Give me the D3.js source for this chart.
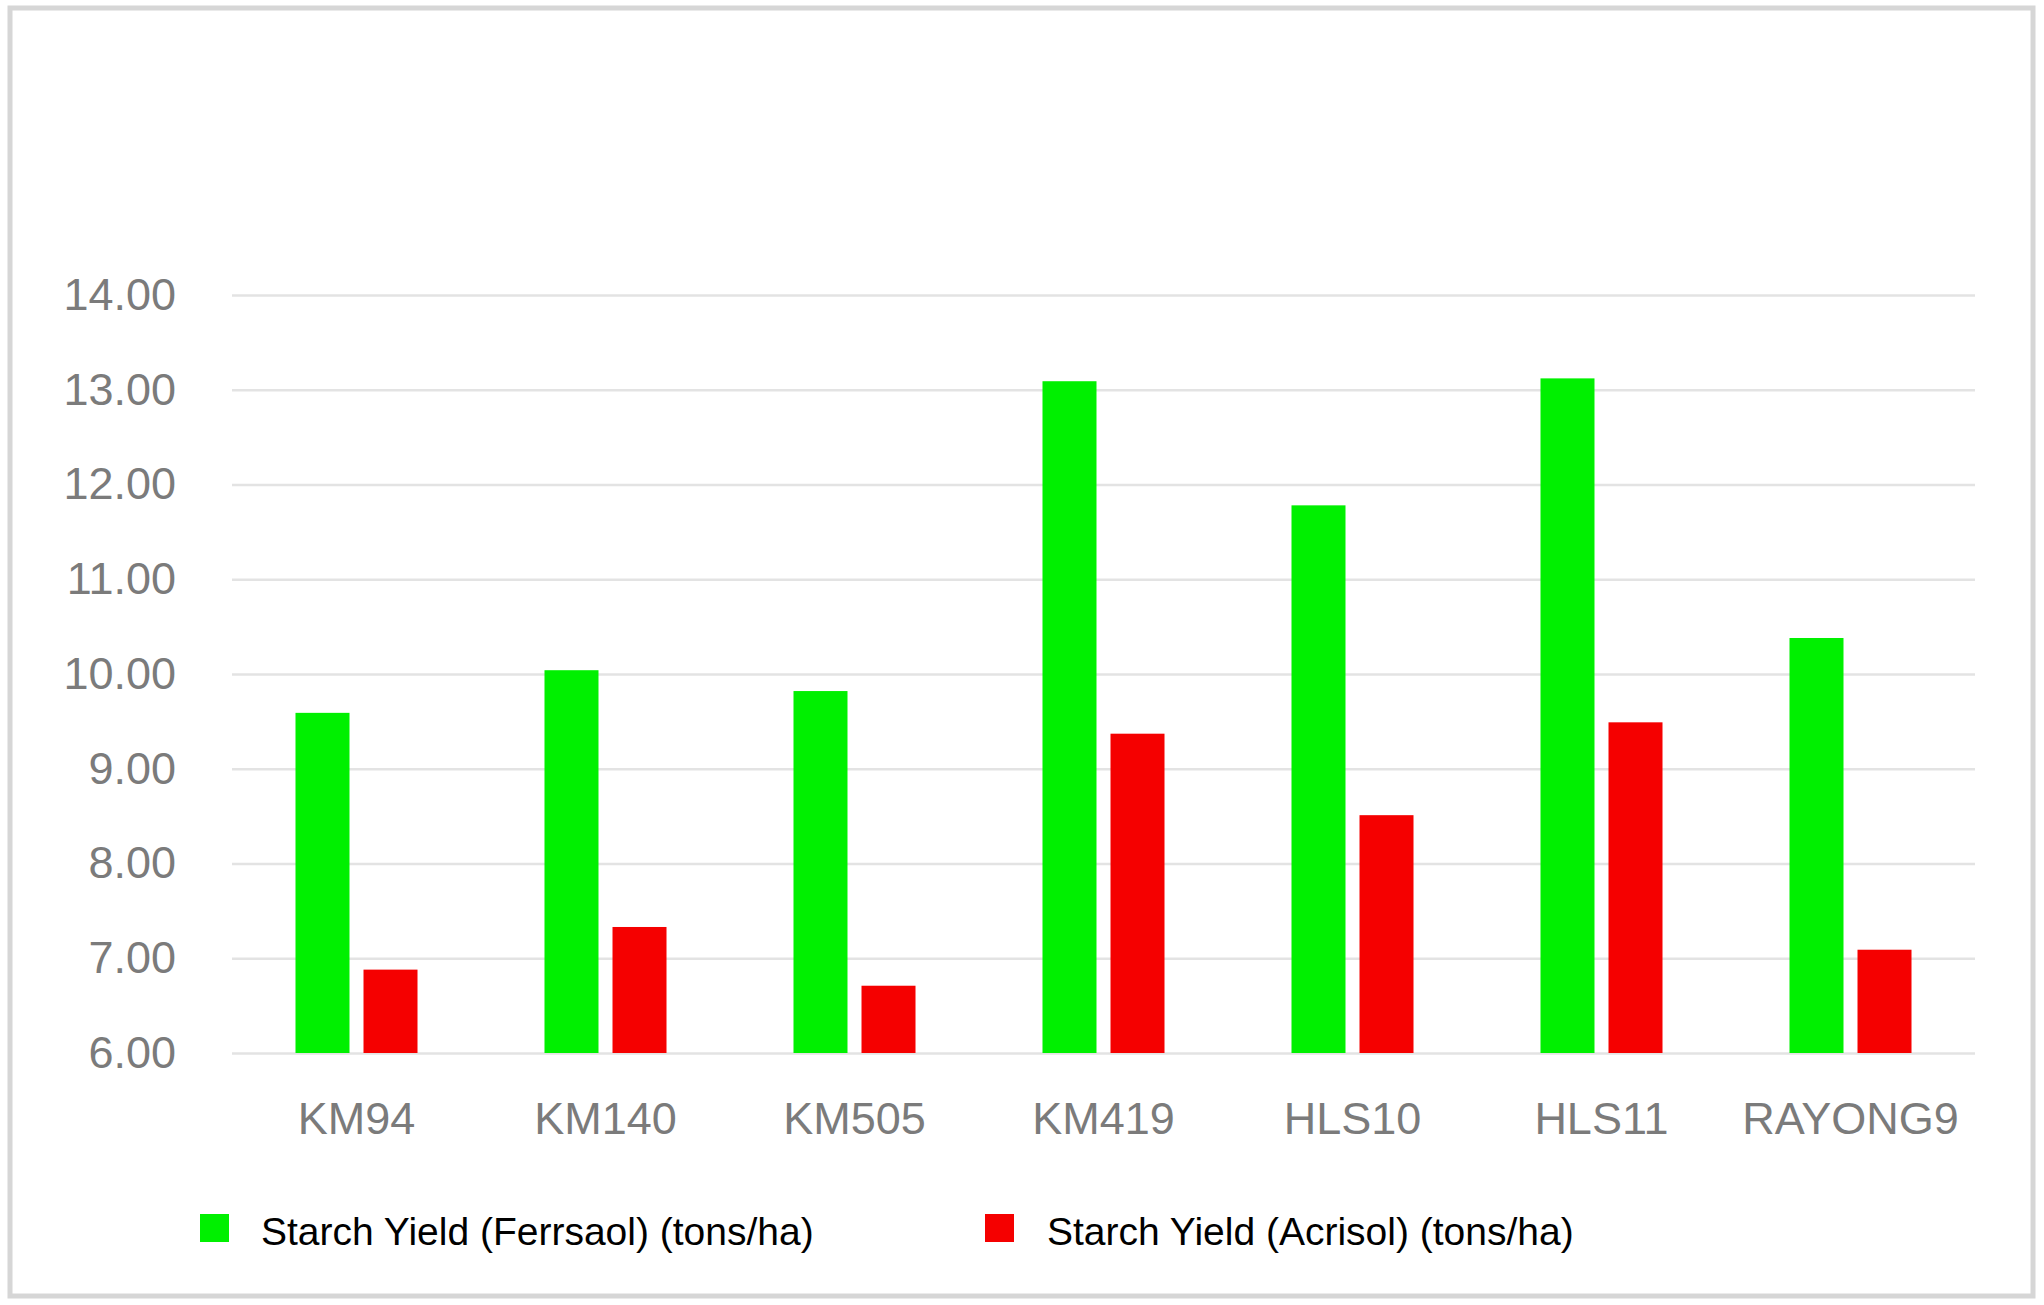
<!DOCTYPE html>
<html>
<head>
<meta charset="utf-8">
<script src="https://cdn.jsdelivr.net/npm/d3@7"></script>
<style>
  html, body { margin: 0; padding: 0; background: #ffffff; }
  svg { display: block; }
</style>
</head>
<body>
<svg id="chart" width="2044" height="1305"></svg>
<script>
const categories = ["KM94", "KM140", "KM505", "KM419", "HLS10", "HLS11", "RAYONG9"];
const seriesNames = ["Starch Yield (Ferrsaol) (tons/ha)", "Starch Yield (Acrisol) (tons/ha)"];
const ferralsolValues = [9.59, 10.04, 9.82, 13.09, 11.78, 13.12, 10.38];
const acrisolValues = [6.88, 7.33, 6.71, 9.37, 8.51, 9.49, 7.09];
const yTicks = [6, 7, 8, 9, 10, 11, 12, 13, 14];
const seriesColors = ["#00f000", "#f50000"];

const svg = d3.select("#chart");
const W = 2044, H = 1305;

// outer frame
svg.append("rect")
  .attr("x", 10).attr("y", 8).attr("width", 2023).attr("height", 1288)
  .attr("fill", "#ffffff").attr("stroke", "#d6d6d6").attr("stroke-width", 5);

const plotLeft = 232, plotRight = 1975;
const y = d3.scaleLinear().domain([6, 14]).range([1053, 295]);
const x0 = d3.scaleBand().domain(categories).range([plotLeft, plotRight])
  .paddingInner(0.51).paddingOuter(0.255);
const x1 = d3.scaleBand().domain(seriesNames).range([0, x0.bandwidth()])
  .paddingInner(0.206).paddingOuter(0);

// gridlines
const yAxis = d3.axisLeft(y).tickValues(yTicks)
  .tickSize(-(plotRight - plotLeft)).tickFormat(d3.format(".2f")).tickPadding(56);
const gy = svg.append("g").attr("transform", `translate(${plotLeft},0)`).call(yAxis);
gy.select(".domain").remove();
gy.selectAll(".tick line").attr("stroke", "#e3e3e3").attr("stroke-width", 2.5);
gy.selectAll(".tick text")
  .attr("fill", "#7b7b7b")
  .style("font-family", "'Liberation Sans', Arial, sans-serif")
  .style("font-size", "45px");

// bars
const rows = categories.map((c, i) => ({ cat: c, vals: [ferralsolValues[i], acrisolValues[i]] }));
const groups = svg.append("g").selectAll("g").data(rows).join("g")
  .attr("transform", d => `translate(${x0(d.cat)},0)`);
groups.selectAll("rect")
  .data(d => d.vals.map((v, j) => ({ name: seriesNames[j], v, j })))
  .join("rect")
  .attr("x", d => x1(d.name))
  .attr("width", x1.bandwidth())
  .attr("y", d => y(d.v))
  .attr("height", d => y(6) - y(d.v))
  .attr("fill", d => seriesColors[d.j]);

// x axis labels
const xAxis = d3.axisBottom(x0).tickSize(0).tickPadding(0);
const gx = svg.append("g").attr("transform", `translate(0,1118)`).call(xAxis);
gx.select(".domain").remove();
gx.selectAll(".tick text")
  .attr("fill", "#7b7b7b")
  .attr("dy", "0.36em")
  .style("font-family", "'Liberation Sans', Arial, sans-serif")
  .style("font-size", "45px");

// legend
const legendX = [200, 985];
const legendTextX = [261, 1047];
const lg = svg.append("g");
seriesNames.forEach((name, j) => {
  lg.append("rect")
    .attr("x", legendX[j]).attr("y", 1214)
    .attr("width", 29).attr("height", 28)
    .attr("fill", seriesColors[j]);
  lg.append("text")
    .attr("x", legendTextX[j]).attr("y", 1245)
    .attr("fill", "#000000")
    .style("font-family", "'Liberation Sans', Arial, sans-serif")
    .style("font-size", "39px")
    .text(name);
});
</script>
</body>
</html>
